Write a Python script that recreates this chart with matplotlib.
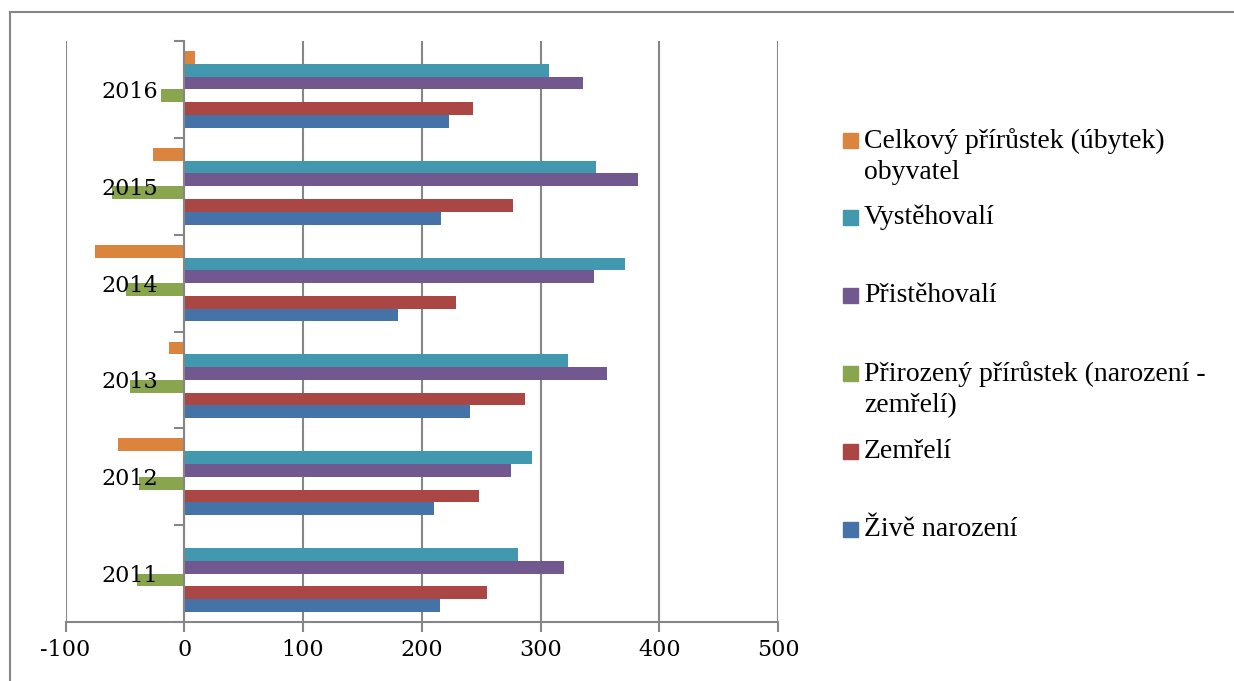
import numpy as np
import matplotlib.pyplot as plt
from matplotlib.patches import Rectangle
from matplotlib.lines import Line2D

plt.rcParams['font.family'] = ['Liberation Serif', 'DejaVu Serif']
plt.rcParams['axes.unicode_minus'] = False

years = ['2011', '2012', '2013', '2014', '2015', '2016']

# series, bottom to top inside each year
zive_narozeni = [215, 210, 241, 180, 216, 223]
zemreli = [255, 248, 287, 229, 277, 243]
prirozeny = [-40, -38, -46, -49, -61, -20]
pristehovali = [320, 275, 356, 345, 382, 336]
vystehovali = [281, 293, 323, 371, 347, 307]
celkovy = [-1, -56, -13, -75, -26, 9]

labels = ['Živě narození', 'Zemřelí', 'Přirozený přírůstek (narození -\nzemřelí)',
          'Přistěhovalí', 'Vystěhovalí', 'Celkový přírůstek (úbytek)\nobyvatel']
colors = ['#4572A7', '#AA4643', '#89A54E', '#71588F', '#4198AF', '#DB843D']
series = [zive_narozeni, zemreli, prirozeny, pristehovali, vystehovali, celkovy]
grey = '#868686'

fig = plt.figure(figsize=(12.34, 6.81), dpi=100)
ax = fig.add_axes([65.5 / 1234, 1 - 622 / 681, (778 - 65.5) / 1234, (622 - 41) / 681])
ax.set_axisbelow(False)  # year labels sit on top of the bars

y = np.arange(len(years))
h = 0.132
for j, (vals, col) in enumerate(zip(series, colors)):
    ax.barh(y + (j - 2.5) * h, vals, height=h, color=col, zorder=2)

ax.set_xlim(-100, 500)
ax.set_ylim(-0.5, len(years) - 0.5)
xt = np.arange(-100, 501, 100)
ax.set_xticks(xt)
for v in xt:
    ax.axvline(v, color=grey, linewidth=1.5, zorder=1)

ax.spines['top'].set_visible(False)
ax.spines['right'].set_visible(False)
ax.spines['left'].set_position(('data', 0))
for s in ['left', 'bottom']:
    ax.spines[s].set_color(grey)
    ax.spines[s].set_linewidth(1.5)
    ax.spines[s].set_zorder(2.2)

ax.set_yticks(y)
ax.set_yticklabels(years, family='DejaVu Serif')
ax.set_yticks(np.arange(-0.5, len(years)), minor=True)
ax.tick_params(axis='y', which='major', length=0, pad=19, labelsize=16)
ax.tick_params(axis='y', which='minor', length=7, width=1.5, color=grey)
ax.tick_params(axis='x', length=7, width=1.5, color=grey, labelsize=16, pad=5)
for t in ax.get_xticklabels():
    t.set_family('DejaVu Serif')

# legend drawn in the order Excel shows it (top series first)
leg_y = [140, 217, 295, 373, 451, 529]
for k, j in enumerate(range(5, -1, -1)):
    yy = 1 - leg_y[k] / 681
    fig.add_artist(Rectangle((843 / 1234, yy - 7.5 / 681), 15 / 1234, 15 / 681,
                             color=colors[j], transform=fig.transFigure))
    fig.text(864 / 1234, yy + 12 / 681, labels[j], fontsize=20, va='top',
             linespacing=1.3)

# frame lines of the original picture (top and left only)
fig.add_artist(Line2D([9.5 / 1234, 1], [1 - 12 / 681, 1 - 12 / 681],
                      color=grey, linewidth=1.5, transform=fig.transFigure))
fig.add_artist(Line2D([9.5 / 1234, 9.5 / 1234], [0, 1 - 12 / 681],
                      color=grey, linewidth=1.5, transform=fig.transFigure))

fig.savefig('out.png', dpi=100)
